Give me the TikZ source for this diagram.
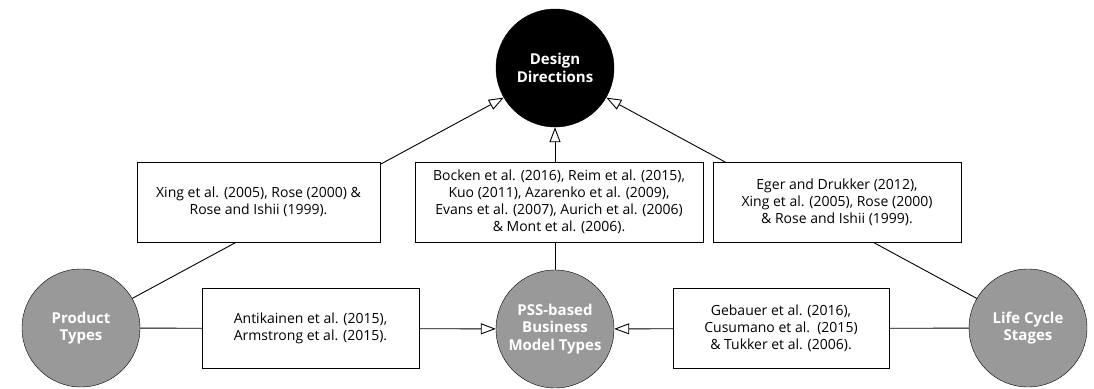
\documentclass[tikz,border=0pt]{standalone}
\usepackage{fontspec}
\setmainfont{Open Sans}
\usetikzlibrary{positioning,arrows.meta}
\tikzstyle{hub}=[
draw=black,
shape=circle,
fill=black,
text=white,
minimum size=118pt,
inner sep=0pt,
align=center,
font=\bfseries\fontsize{15}{17.5}\selectfont
]
\tikzstyle{topic}=[hub,fill=black!40]
\tikzstyle{refbox}=[draw=black,fill=white,shape=rectangle,inner sep=0pt,align=center,minimum height=80pt,font=\fontsize{14}{17}\selectfont]
\tikzstyle{link} = [-{Triangle[open,length=15pt,width=11pt]}]
\tikzstyle{pstyle} = [draw,line width=0.9pt]

\begin{document}
\begin{tikzpicture}[x=1pt,y=1pt]
			\useasboundingbox (0,0) rectangle (1094,388);
			
			\node[hub]		(DD) at (555,320) {Design\\Directions};
			\node[topic]	(PT) at (81,60) {Product\\Types};
			\node[topic]	(BM) at (555,59) {PSS-based\\Business\\Model Types};
			\node[topic]	(LC) at (1028,60) {Life Cycle\\Stages};
			
			\path[pstyle]
			(PT.30) edge[link] (DD.210)
			(BM) edge[link] (DD)
			(LC.150) edge[link] (DD.-30)
			(PT) edge[link] (BM)
			(LC) edge[link] (BM);
			
			\node[refbox,minimum width=243pt] (R1) at (258.5,186) {Xing et al. (2005), Rose (2000) \&\\Rose and Ishii (1999).};
			\node[refbox,minimum width=288pt] (R2) at (559,186) {Bocken et al. (2016), Reim et al. (2015),\\Kuo (2011), Azarenko et al. (2009),\\Evans et al. (2007), Aurich et al. (2006)\\\& Mont et al. (2006).};
			\node[refbox,minimum width=248pt] (R3) at (837,186) {Eger and Drukker (2012),\\Xing et al. (2005), Rose (2000)\\\& Rose and Ishii (1999).};
			\node[refbox,minimum width=217pt] (R4) at (310.5,59.5) {Antikainen et al. (2015),\\Armstrong et al. (2015).};
			\node[refbox,minimum width=216pt] (R5) at (781,59.5) {Gebauer et al. (2016),\\Cusumano et al.\ \ (2015)\\\& Tukker et al. (2006).};
			
\end{tikzpicture}
\end{document}
